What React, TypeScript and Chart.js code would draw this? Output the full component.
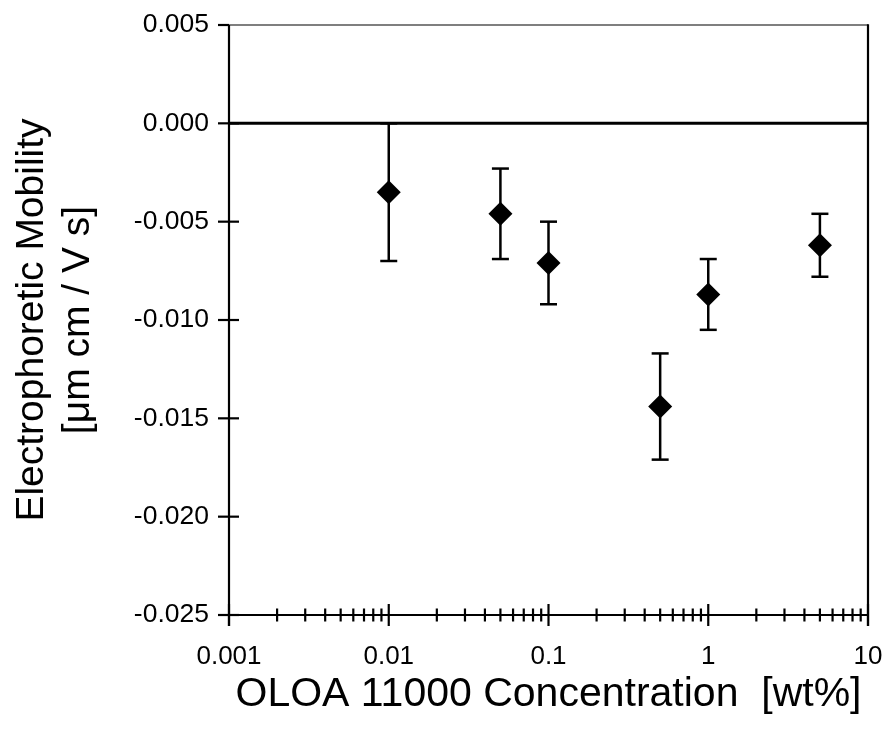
import React, { useEffect, useRef } from 'react';
import { Chart, registerables } from 'chart.js';

Chart.register(...registerables);

// OLOA 11000 concentration [wt%] and measured electrophoretic mobility
const concentrations = [0.01, 0.05, 0.1, 0.5, 1, 5];
const mobility = [-0.0035, -0.0046, -0.0071, -0.0144, -0.0087, -0.0062];
const mobilityError = [0.0035, 0.0023, 0.0021, 0.0027, 0.0018, 0.0016];

// axis ticks
const xMajorTicks = [0.001, 0.01, 0.1, 1, 10];
const yTicks = [0.005, 0, -0.005, -0.01, -0.015, -0.02, -0.025];

const xTitle = 'OLOA 11000 Concentration  [wt%]';
const yTitle = ['Electrophoretic Mobility', '[\u03bcm cm / V s]'];

const FONT = "'Liberation Sans', Arial, sans-serif";

function strokeLine(ctx: CanvasRenderingContext2D, x1: number, y1: number, x2: number, y2: number) {
  ctx.beginPath();
  ctx.moveTo(x1, y1);
  ctx.lineTo(x2, y2);
  ctx.stroke();
}

// frame, zero line, crossing tick marks and error bars
const framePlugin = {
  id: 'frame',
  beforeDatasetsDraw(chart: any) {
    const { ctx, chartArea: a, scales } = chart;
    const xs = scales.x;
    const ys = scales.y;
    ctx.save();
    ctx.lineCap = 'butt';

    // top border (lighter)
    ctx.strokeStyle = '#555';
    ctx.lineWidth = 1.5;
    strokeLine(ctx, a.left - 11, a.top, a.right, a.top);

    ctx.strokeStyle = '#000';
    ctx.lineWidth = 2.2;
    // right border
    strokeLine(ctx, a.right, a.top - 0.75, a.right, a.bottom + 11);
    // left axis
    strokeLine(ctx, a.left, a.top, a.left, a.bottom + 11);
    // bottom axis
    strokeLine(ctx, a.left - 11, a.bottom, a.right, a.bottom);

    // y tick marks (crossing the axis)
    for (const t of ys.ticks) {
      const py = ys.getPixelForValue(t.value);
      const inside = t.value === yTicks[0] ? 0 : 10;
      strokeLine(ctx, a.left - 11, py, a.left + inside, py);
    }

    // x tick marks (crossing the axis)
    for (const t of xs.ticks) {
      const px = xs.getPixelForValue(t.value);
      const len = t.major ? 11 : 6.5;
      strokeLine(ctx, px, a.bottom - len, px, a.bottom + len);
    }

    // zero line
    ctx.lineWidth = 3;
    const y0 = ys.getPixelForValue(0);
    strokeLine(ctx, a.left, y0, a.right, y0);

    // error bars
    ctx.lineWidth = 2.5;
    const cap = 8.5;
    concentrations.forEach((c, i) => {
      const px = xs.getPixelForValue(c);
      const top = ys.getPixelForValue(mobility[i] + mobilityError[i]);
      const bot = ys.getPixelForValue(mobility[i] - mobilityError[i]);
      strokeLine(ctx, px, top, px, bot);
      strokeLine(ctx, px - cap, top, px + cap, top);
      strokeLine(ctx, px - cap, bot, px + cap, bot);
    });
    ctx.restore();
  },
  afterDraw(chart: any) {
    const { ctx, chartArea: a } = chart;
    ctx.save();
    ctx.fillStyle = '#000';
    ctx.textBaseline = 'alphabetic';
    ctx.textAlign = 'center';

    // x axis title
    ctx.font = `41px ${FONT}`;
    ctx.fillText(xTitle, (a.left + a.right) / 2, 706);

    // y axis title (two lines, rotated)
    ctx.font = `39px ${FONT}`;
    const cy = (a.top + a.bottom) / 2;
    const baselines = [43, 89];
    yTitle.forEach((line, i) => {
      ctx.save();
      ctx.translate(baselines[i], cy);
      ctx.rotate(-Math.PI / 2);
      ctx.fillText(line, 0, 0);
      ctx.restore();
    });
    ctx.restore();
  },
};

export default function App() {
  const canvasRef = useRef<HTMLCanvasElement | null>(null);

  useEffect(() => {
    document.body.style.margin = '0';
    const canvas = canvasRef.current;
    if (!canvas) return;

    const chart = new Chart(canvas, {
      type: 'scatter',
      data: {
        datasets: [
          {
            data: concentrations.map((c, i) => ({ x: c, y: mobility[i] })),
            pointStyle: 'rectRot',
            pointRadius: 12,
            pointHoverRadius: 12,
            backgroundColor: '#000',
            borderColor: '#000',
            borderWidth: 0,
            showLine: false,
          },
        ],
      },
      options: {
        animation: false,
        responsive: false,
        events: [],
        layout: { padding: { top: 25, right: 17, left: 0, bottom: 0 } },
        plugins: {
          legend: { display: false },
          tooltip: { enabled: false },
          title: { display: false },
        },
        scales: {
          x: {
            type: 'logarithmic',
            min: xMajorTicks[0],
            max: xMajorTicks[xMajorTicks.length - 1],
            grid: { display: false, drawTicks: false },
            border: { display: false },
            afterBuildTicks(scale: any) {
              const ticks: { value: number; major: boolean }[] = [];
              for (let i = 0; i < xMajorTicks.length - 1; i++) {
                for (let k = 1; k <= 9; k++) {
                  ticks.push({ value: xMajorTicks[i] * k, major: k === 1 });
                }
              }
              ticks.push({ value: xMajorTicks[xMajorTicks.length - 1], major: true });
              scale.ticks = ticks;
            },
            afterFit(scale: any) {
              scale.height = 121;
              scale.paddingLeft = 0;
              scale.paddingRight = 0;
            },
            ticks: {
              autoSkip: false,
              maxRotation: 0,
              padding: 26,
              color: '#000',
              font: { family: FONT, size: 26 },
              callback(value: any, index: number, ticks: any[]) {
                const t = ticks[index];
                return t && t.major ? String(value) : '';
              },
            },
          },
          y: {
            type: 'linear',
            min: yTicks[yTicks.length - 1],
            max: yTicks[0],
            grid: { display: false, drawTicks: false },
            border: { display: false },
            afterBuildTicks(scale: any) {
              scale.ticks = yTicks.map((v) => ({ value: v }));
            },
            afterFit(scale: any) {
              scale.width = 229;
              scale.paddingTop = 0;
              scale.paddingBottom = 0;
            },
            ticks: {
              padding: 20,
              color: '#000',
              font: { family: FONT, size: 26.5 },
              callback(value: any) {
                return Number(value).toFixed(3);
              },
            },
          },
        },
      },
      plugins: [framePlugin],
    });

    return () => {
      chart.destroy();
    };
  }, []);

  return (
    <div style={{ position: 'fixed', left: 0, top: 0, width: 885, height: 736, background: '#fff' }}>
      <canvas ref={canvasRef} width={885} height={736} style={{ display: 'block' }} />
    </div>
  );
}
